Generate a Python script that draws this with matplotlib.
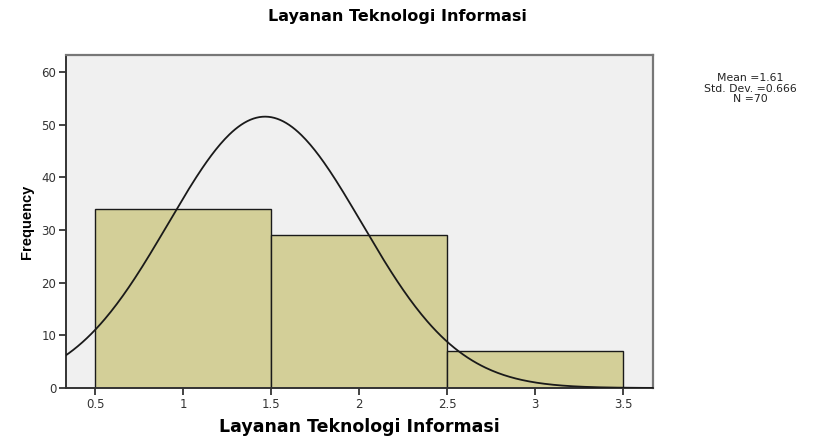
import numpy as np
import matplotlib
matplotlib.use("Agg")
import matplotlib.pyplot as plt

plt.rcParams['font.family'] = ['DejaVu Sans']

# histogram bins (edges) and frequencies
bin_left = [0.5, 1.5, 2.5]
bin_width = [1.0, 1.0, 1.0]
freq = [34, 29, 7]

# fitted normal curve as drawn (peak, centre, spread)
curve_peak = 51.5
curve_center = 1.466
curve_sigma = 0.55

stats_lines = ["Mean =1.61", "Std. Dev. =0.666", "N =70"]
stats_y = [78, 88.5, 99]

xticks = [0.5, 1, 1.5, 2, 2.5, 3, 3.5]
xticklabels = ['0.5', '1', '1.5', '2', '2.5', '3', '3.5']
yticks = [0, 10, 20, 30, 40, 50, 60]

fig = plt.figure(figsize=(8.15, 4.37), dpi=100)
ax = fig.add_axes([66 / 815, 1 - 388 / 437, (653 - 66) / 815, (388 - 55) / 437])
ax.set_facecolor('#f0f0f0')

ax.bar(bin_left, freq, width=bin_width, align='edge', color='#d3cf98',
       edgecolor='#1a1a1a', linewidth=1.0, zorder=2)

xs = np.linspace(0.3, 3.7, 400)
ys = curve_peak * np.exp(-(xs - curve_center) ** 2 / (2 * curve_sigma ** 2))
ax.plot(xs, ys, color='#1a1a1a', linewidth=1.3, zorder=3)

ax.set_xlim(0.335, 3.67)
ax.set_ylim(0, 63.2)
ax.set_xticks(xticks)
ax.set_xticklabels(xticklabels)
ax.set_yticks(yticks)
ax.tick_params(direction='out', length=5, width=1.2, colors='#222222',
               labelsize=8.5, labelcolor='#333333', pad=2)

for s in ['left', 'bottom']:
    ax.spines[s].set_color('#333333')
    ax.spines[s].set_linewidth(1.4)
for s in ['top', 'right']:
    ax.spines[s].set_color('#777777')
    ax.spines[s].set_linewidth(1.6)

ax.set_xlabel('Layanan Teknologi Informasi', fontsize=12.5, fontweight='bold', labelpad=5)
ax.set_ylabel('Frequency', fontsize=10.5, fontweight='bold', labelpad=5,
              family='Liberation Sans')

fig.text(397 / 815, 1 - 17 / 437, 'Layanan Teknologi Informasi', ha='center', va='center',
         fontsize=11.5, fontweight='bold')
for line, y in zip(stats_lines, stats_y):
    fig.text(750 / 815, 1 - y / 437, line, ha='center', va='center',
             fontsize=7.8, color='#222222')

fig.savefig('out.png', dpi=100)
